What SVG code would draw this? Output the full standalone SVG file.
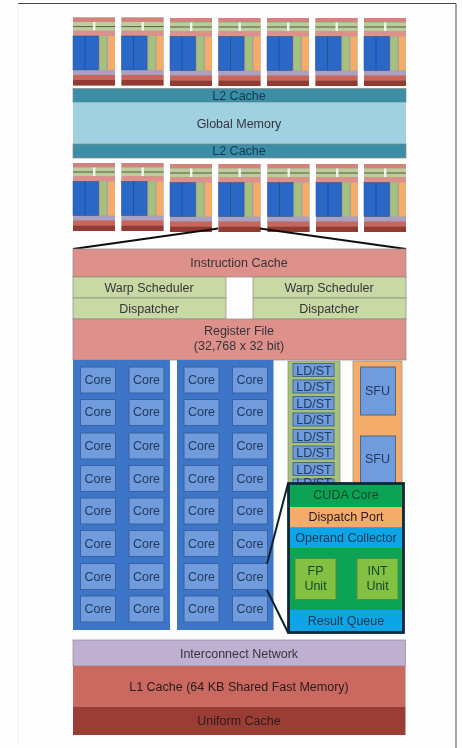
<svg xmlns="http://www.w3.org/2000/svg" width="462" height="748" viewBox="0 0 462 748">
<style>
text{font-family:"Liberation Sans",Arial,sans-serif;font-size:12.5px;fill:#37333c;text-anchor:middle}
.b{stroke:#8d8a85;stroke-width:.7}
.core{fill:#6f9bdc;stroke:#3a62a0;stroke-width:1}
.col{fill:#3c74c8}
.ls{fill:#6f9bdc;stroke:#4b6a80;stroke-width:1}
.zoom{fill:none;stroke:#10202c;stroke-width:2}
.ct{fill:#233a5e}
.dk{fill:#2a1a1c}
.tq{fill:#123a50}
.gr{fill:#0b4a2a}
</style>
<defs>
<filter id="soft" x="0" y="0" width="100%" height="100%"><feGaussianBlur stdDeviation="0.35"/></filter>
<symbol id="tile" width="42" height="68" viewBox="0 0 42 68" overflow="visible">
<rect width="42" height="68" fill="#a8a39c"/>
<rect y="0" width="42" height="4.5" fill="#d1837c"/>
<rect y="4.5" width="42" height="4" fill="#bccc9c"/>
<rect y="8.5" width="42" height="1.2" fill="#59703f"/>
<rect y="9.7" width="42" height="3.5" fill="#bccc9c"/>
<rect x="20" y="4.5" width="2.4" height="8.700" fill="#f4f4ee"/>
<rect y="13.2" width="42" height="4.8" fill="#dd918a"/>
<rect y="18.5" width="25.5" height="34" fill="#2a68c8"/>
<rect x="11.5" y="18.5" width="1" height="34" fill="#255193"/>
<rect y="18.5" width="25.5" height="34" fill="none" stroke="#2e4d80" stroke-width=".5"/>
<rect x="27" y="18.5" width="6.5" height="34" fill="#a5c27c"/>
<rect x="35" y="18.5" width="7" height="34" fill="#f5ac6b"/>
<rect y="53" width="42" height="4.5" fill="#a9a0c4"/>
<rect y="57.5" width="42" height="5" fill="#c9665c"/>
<rect y="62.5" width="42" height="5.5" fill="#933a33"/>
</symbol>
<rect id="c" class="core" width="35" height="26"/>
<rect id="l" class="ls" width="41" height="13"/>
</defs>
<g filter="url(#soft)">
<rect width="462" height="748" fill="#fdfdfd"/>
<path d="M18 3.5H456V748" fill="none" stroke="#4a4a4a" stroke-width="1"/>
<path d="M18 3.500V745" fill="none" stroke="#eee" stroke-width="1"/>

<g id="tiles-top">
<use href="#tile" x="73" y="17.500"/><use href="#tile" x="121.500" y="17.500"/><use href="#tile" x="170" y="18"/><use href="#tile" x="218.500" y="18"/><use href="#tile" x="267" y="18"/><use href="#tile" x="315.500" y="18"/><use href="#tile" x="364" y="18"/>
</g>
<g id="l2-top"><rect class="b" x="73" y="88.500" width="333" height="14" fill="#3a8ea6"/><text class="tq" x="239" y="99.500">L2 Cache</text></g>
<g id="global-memory"><rect x="73" y="102.500" width="333" height="41.500" fill="#9fd1e0"/><text x="239" y="127.500">Global Memory</text></g>
<g id="l2-bottom"><rect class="b" x="73" y="144" width="333" height="14" fill="#3a8ea6"/><text class="tq" x="239" y="155">L2 Cache</text></g>
<g id="tiles-bottom">
<use href="#tile" x="73" y="163"/><use href="#tile" x="121.500" y="163"/><use href="#tile" x="170" y="164"/><use href="#tile" x="218.500" y="164"/><use href="#tile" x="267.500" y="164"/><use href="#tile" x="316" y="164"/><use href="#tile" x="364" y="164"/>
</g>

<g id="connectors">
<path d="M73 249L218 228.500M260 228.500L406 249" fill="none" stroke="#111" stroke-width="1.800"/>
</g>

<g id="instruction-cache"><rect class="b" x="73" y="249" width="333" height="28" fill="#dd918a"/><text x="239" y="267">Instruction Cache</text></g>
<g id="warp-left"><rect class="b" x="73" y="277" width="153" height="21" fill="#c9d9a4"/><text x="149" y="291.500">Warp Scheduler</text></g>
<g id="dispatcher-left"><rect class="b" x="73" y="298" width="153" height="21" fill="#c9d9a4"/><text x="149" y="312.500">Dispatcher</text></g>
<g id="warp-right"><rect class="b" x="253" y="277" width="153" height="21" fill="#c9d9a4"/><text x="329" y="291.500">Warp Scheduler</text></g>
<g id="dispatcher-right"><rect class="b" x="253" y="298" width="153" height="21" fill="#c9d9a4"/><text x="329" y="312.500">Dispatcher</text></g>
<g id="register-file"><rect class="b" x="73" y="319" width="333" height="41" fill="#dd918a"/><text x="239" y="335">Register File</text><text x="239" y="350">(32,768 x 32 bit)</text></g>

<g id="core-col-1"><rect class="col" x="73" y="360" width="97" height="270"/>
<g>
<use href="#c" x="80.500" y="367"/><use href="#c" x="129" y="367"/>
<use href="#c" x="80.500" y="399.500"/><use href="#c" x="129" y="399.500"/>
<use href="#c" x="80.500" y="433"/><use href="#c" x="129" y="433"/>
<use href="#c" x="80.500" y="465.500"/><use href="#c" x="129" y="465.500"/>
<use href="#c" x="80.500" y="498"/><use href="#c" x="129" y="498"/>
<use href="#c" x="80.500" y="530.500"/><use href="#c" x="129" y="530.500"/>
<use href="#c" x="80.500" y="563.500"/><use href="#c" x="129" y="563.500"/>
<use href="#c" x="80.500" y="596"/><use href="#c" x="129" y="596"/>
</g>
<g>
<text class="ct" x="98" y="384">Core</text><text class="ct" x="146.500" y="384">Core</text>
<text class="ct" x="98" y="416">Core</text><text class="ct" x="146.500" y="416">Core</text>
<text class="ct" x="98" y="449.500">Core</text><text class="ct" x="146.500" y="449.500">Core</text>
<text class="ct" x="98" y="482.500">Core</text><text class="ct" x="146.500" y="482.500">Core</text>
<text class="ct" x="98" y="514.500">Core</text><text class="ct" x="146.500" y="514.500">Core</text>
<text class="ct" x="98" y="547.500">Core</text><text class="ct" x="146.500" y="547.500">Core</text>
<text class="ct" x="98" y="580.500">Core</text><text class="ct" x="146.500" y="580.500">Core</text>
<text class="ct" x="98" y="613">Core</text><text class="ct" x="146.500" y="613">Core</text>
</g></g>
<g id="core-col-2"><rect class="col" x="177" y="360" width="96.500" height="270"/>
<g>
<use href="#c" x="184" y="367"/><use href="#c" x="232.500" y="367"/>
<use href="#c" x="184" y="399.500"/><use href="#c" x="232.500" y="399.500"/>
<use href="#c" x="184" y="433"/><use href="#c" x="232.500" y="433"/>
<use href="#c" x="184" y="465.500"/><use href="#c" x="232.500" y="465.500"/>
<use href="#c" x="184" y="498"/><use href="#c" x="232.500" y="498"/>
<use href="#c" x="184" y="530.500"/><use href="#c" x="232.500" y="530.500"/>
<use href="#c" x="184" y="563.500"/><use href="#c" x="232.500" y="563.500"/>
<use href="#c" x="184" y="596"/><use href="#c" x="232.500" y="596"/>
</g>
<g>
<text class="ct" x="201.500" y="384">Core</text><text class="ct" x="250" y="384">Core</text>
<text class="ct" x="201.500" y="416">Core</text><text class="ct" x="250" y="416">Core</text>
<text class="ct" x="201.500" y="449.500">Core</text><text class="ct" x="250" y="449.500">Core</text>
<text class="ct" x="201.500" y="482.500">Core</text><text class="ct" x="250" y="482.500">Core</text>
<text class="ct" x="201.500" y="514.500">Core</text><text class="ct" x="250" y="514.500">Core</text>
<text class="ct" x="201.500" y="547.500">Core</text><text class="ct" x="250" y="547.500">Core</text>
<text class="ct" x="201.500" y="580.500">Core</text><text class="ct" x="250" y="580.500">Core</text>
<text class="ct" x="201.500" y="613">Core</text><text class="ct" x="250" y="613">Core</text>
</g></g>

<g id="ldst"><rect x="288" y="361" width="52" height="125" fill="#a5c27c" stroke="#8d8a85" stroke-width=".7"/>
<use href="#l" x="293" y="363.500"/><use href="#l" x="293" y="380"/><use href="#l" x="293" y="396.500"/><use href="#l" x="293" y="413"/><use href="#l" x="293" y="429.500"/><use href="#l" x="293" y="446"/><use href="#l" x="293" y="462.500"/><use href="#l" x="293" y="479"/>
<g><text class="ct" x="314" y="374.500">LD/ST</text><text class="ct" x="314" y="391">LD/ST</text><text class="ct" x="314" y="407.500">LD/ST</text><text class="ct" x="314" y="424">LD/ST</text><text class="ct" x="314" y="440.500">LD/ST</text><text class="ct" x="314" y="457">LD/ST</text><text class="ct" x="314" y="473.500">LD/ST</text><text class="ct" x="314" y="487">LD/ST</text></g>
</g>
<g id="sfu"><rect x="353" y="361" width="49" height="125" fill="#f5ac6b" stroke="#8d8a85" stroke-width=".7"/>
<rect class="ls" x="360.500" y="367" width="35" height="48"/><text class="ct" x="377.500" y="394.500">SFU</text>
<rect class="ls" x="360.500" y="436" width="35" height="50"/><text class="ct" x="377.500" y="463">SFU</text>
</g>

<g id="core-detail">
<rect x="288.500" y="483.500" width="115" height="149" fill="#0fa354"/>
<rect x="290" y="507" width="112" height="20.500" fill="#f5ac6b"/>
<rect x="290" y="527.500" width="112" height="20.500" fill="#0aa5e8"/>
<rect x="290" y="610" width="112" height="21" fill="#0aa5e8"/>
<rect x="295" y="558.500" width="41" height="41" fill="#84c043" stroke="#4f8f3a"/>
<rect x="357" y="558.500" width="41" height="41" fill="#84c043" stroke="#4f8f3a"/>
<rect x="288.500" y="483.500" width="115" height="149" fill="none" stroke="#10283a" stroke-width="2.800"/>
<text class="gr" x="346" y="499">CUDA Core</text>
<text class="dk" x="346" y="521">Dispatch Port</text>
<text class="tq" x="346" y="541.500">Operand Collector</text>
<text class="gr" x="315.500" y="575">FP</text><text class="gr" x="315.500" y="590">Unit</text>
<text class="gr" x="377.500" y="575">INT</text><text class="gr" x="377.500" y="590">Unit</text>
<text class="tq" x="346" y="624.500">Result Queue</text>
</g>
<g id="core-callout"><path class="zoom" d="M267 564L288 483.500M267 590L288 632.500"/></g>

<g id="interconnect"><rect class="b" x="73" y="640" width="332.500" height="26" fill="#bfb0d2"/><text x="239" y="657.500">Interconnect Network</text></g>
<g id="l1-cache"><rect x="73" y="666" width="332.500" height="41" fill="#c9695f"/><text class="dk" x="239" y="690.500">L1 Cache (64 KB Shared Fast Memory)</text></g>
<g id="uniform-cache"><rect x="73" y="707" width="332.500" height="28" fill="#9a3e35"/><text class="dk" x="239" y="725">Uniform Cache</text></g>
</g>
</svg>
